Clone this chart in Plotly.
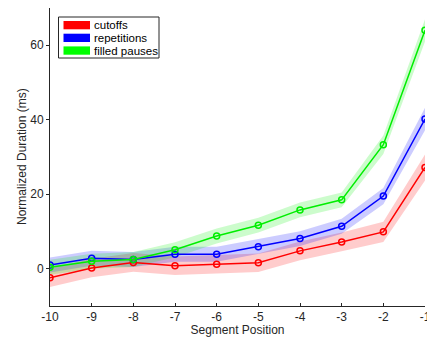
import plotly.graph_objects as go

positions = [-10, -9, -8, -7, -6, -5, -4, -3, -2, -1]
position_labels = ["-10", "-9", "-8", "-7", "-6", "-5", "-4", "-3", "-2", "-1"]
cutoffs = [-2.4, 0.2, 1.7, 0.8, 1.2, 1.6, 4.8, 7.2, 9.9, 27.2]
repetitions = [1.0, 2.8, 2.5, 3.9, 3.9, 5.9, 8.1, 11.4, 19.5, 40.2]
filled_pauses = [0.4, 2.0, 2.5, 5.1, 8.8, 11.7, 15.8, 18.5, 33.3, 64.0]
cutoffs_err = [2.5, 2.5, 2.5, 2.5, 2.5, 2.5, 2.5, 2.5, 2.7, 3.5]
repetitions_err = [2.0, 2.0, 2.0, 2.0, 2.0, 2.0, 2.0, 2.0, 2.2, 3.0]
filled_pauses_err = [2.0, 2.0, 2.0, 2.0, 2.0, 2.0, 2.0, 2.0, 2.5, 3.0]
series_names = ["cutoffs", "repetitions", "filled pauses"]
y_ticks = [0, 20, 40, 60]

series = [
    (series_names[0], cutoffs, cutoffs_err, "#ff0000", "#ff0000", "rgba(255,0,0,0.2)"),
    (series_names[1], repetitions, repetitions_err, "#0000ff", "#0000ff", "rgba(0,0,255,0.2)"),
    (series_names[2], filled_pauses, filled_pauses_err, "#00ee00", "#00ff00", "rgba(0,238,0,0.2)"),
]

W, H = 427, 337
ML, MR, MT, MB = 50, 2, 8, 31
PW, PH = W - ML - MR, H - MT - MB

fig = go.Figure()
for name, vals, err, col, pcol, fcol in series:
    upper = [v + e for v, e in zip(vals, err)]
    lower = [v - e for v, e in zip(vals, err)]
    fig.add_trace(go.Scatter(
        x=positions + positions[::-1], y=upper + lower[::-1],
        fill="toself", fillcolor=fcol, line=dict(width=0), mode="lines",
        showlegend=False, hoverinfo="skip"))
for name, vals, err, col, pcol, fcol in series:
    fig.add_trace(go.Scatter(
        x=positions, y=vals, mode="lines+markers", name=name,
        line=dict(color=col, width=1.5),
        marker=dict(symbol="circle-open", size=6, color=col, line=dict(width=1.5)),
        showlegend=False))

axcol = "#262626"

def px_x(p):
    return (p - ML) / PW

def px_y(p):
    return (H - MB - p) / PH

# manual legend (box, colour patches, text)
shapes = [dict(type="rect", xref="paper", yref="paper",
               x0=px_x(58.5), x1=px_x(159), y0=px_y(58), y1=px_y(17),
               line=dict(color=axcol, width=1), fillcolor="white", layer="above")]
annotations = []
for i, (name, vals, err, col, pcol, fcol) in enumerate(series):
    top = 21 + i * 12.7
    shapes.append(dict(type="rect", xref="paper", yref="paper",
                       x0=px_x(63.5), x1=px_x(90), y0=px_y(top + 8.3), y1=px_y(top),
                       line=dict(width=0), fillcolor=pcol, layer="above"))
    annotations.append(dict(xref="paper", yref="paper", x=px_x(92), y=px_y(top + 4.2),
                            xanchor="left", yanchor="middle", text=name, showarrow=False,
                            font=dict(size=11.5, color="black")))
# y-axis title
annotations.append(dict(xref="paper", yref="paper", x=px_x(22), y=0.5,
                        xanchor="center", yanchor="middle", textangle=-90,
                        text="Normalized Duration (ms)", showarrow=False,
                        font=dict(size=12, color=axcol)))

fig.update_layout(
    width=W, height=H,
    margin=dict(l=ML, r=MR, t=MT, b=MB),
    template="none",
    paper_bgcolor="white", plot_bgcolor="white",
    font=dict(family="Liberation Sans, Arial, sans-serif", size=12, color=axcol),
    showlegend=False,
    shapes=shapes, annotations=annotations,
    xaxis=dict(range=[-10, -1], tickvals=positions, ticktext=position_labels,
               ticks="inside", ticklen=3,
               tickcolor=axcol, showline=True, linecolor=axcol, linewidth=1,
               showgrid=False, zeroline=False, automargin=False,
               ticklabeloverflow="allow",
               title=dict(text="Segment Position", standoff=2, font=dict(size=12)),
               tickfont=dict(size=12)),
    yaxis=dict(range=[-10, 70], tickvals=y_ticks, ticks="outside", ticklen=3,
               tickcolor=axcol, showline=True, linecolor=axcol, linewidth=1,
               showgrid=False, zeroline=False, automargin=False,
               tickfont=dict(size=12)),
)
fig.write_html("out.html", config={"displayModeBar": False},
               post_script="document.body.style.margin='0';document.body.style.overflow='hidden';")
